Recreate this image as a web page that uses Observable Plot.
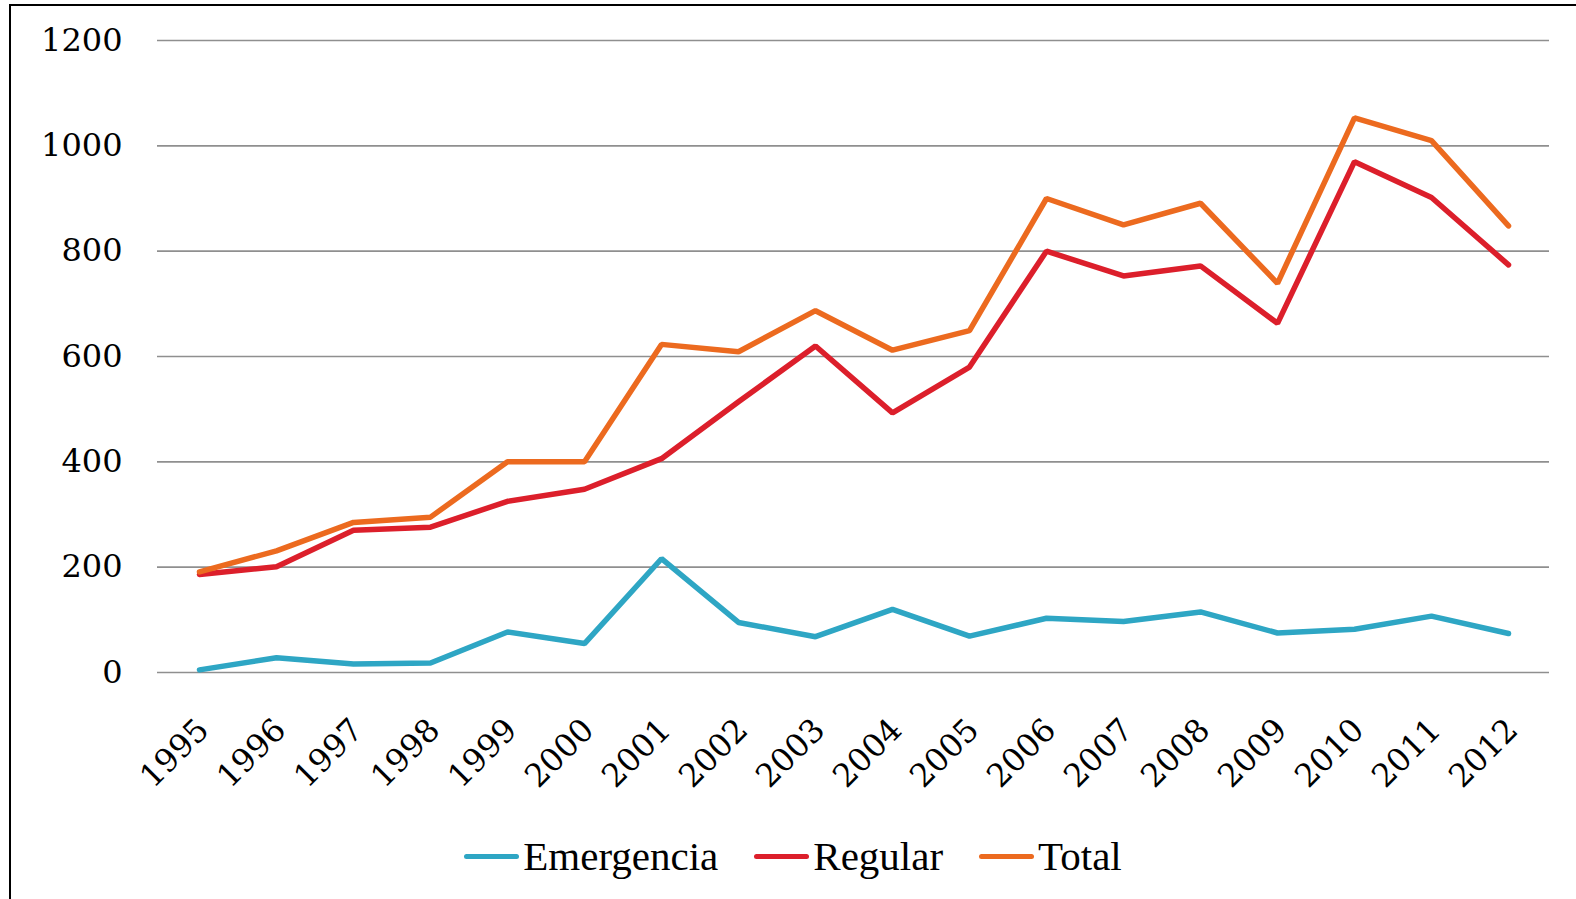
<!DOCTYPE html>
<html>
<head>
<meta charset="utf-8">
<script src="https://cdn.jsdelivr.net/npm/d3@7"></script>
<script src="https://cdn.jsdelivr.net/npm/@observablehq/plot@0.6"></script>
<style>
  html, body { margin: 0; padding: 0; background: #fff; overflow: hidden; width: 1576px; height: 899px; }
  #frame { position: absolute; left: 9px; top: 4px; width: 1700px; height: 1000px; border-left: 2px solid #000; border-top: 2px solid #000; box-sizing: border-box; }
  #chart { position: absolute; left: 0; top: 0; }
  #legend { position: absolute; left: 0; top: 816px; width: 1576px; height: 80px; display: flex; justify-content: center; align-items: center; font-family: "Liberation Serif", serif; font-size: 41px; color: #000; box-sizing: border-box; padding-left: 10px; }
  .item { display: flex; align-items: center; margin: 0 18px; }
  .swatch { width: 55px; height: 5px; border-radius: 3px; margin-right: 4px; }
</style>
</head>
<body>
<div id="frame"></div>
<div id="chart"></div>
<div id="legend"></div>
<script>
const years = ["1995","1996","1997","1998","1999","2000","2001","2002","2003","2004","2005","2006","2007","2008","2009","2010","2011","2012"];
const emergencia = [5, 28, 16, 18, 77, 55, 216, 95, 68, 120, 69, 103, 97, 115, 75, 82, 107, 74];
const regular = [186, 201, 270, 276, 325, 348, 406, 514, 620, 493, 580, 800, 753, 772, 663, 970, 902, 774];
const total = [191, 231, 285, 295, 400, 400, 623, 609, 687, 612, 649, 900, 850, 891, 739, 1053, 1010, 848];
const seriesNames = ["Emergencia", "Regular", "Total"];
const seriesColors = ["#2ea6c4", "#dc1f2b", "#ec6a1f"];
const yTicks = [0, 200, 400, 600, 800, 1000, 1200];

const seriesValues = [emergencia, regular, total];
const data = [];
seriesNames.forEach((name, s) => {
  years.forEach((yr, i) => data.push({series: name, year: yr, value: seriesValues[s][i]}));
});

const chart = Plot.plot({
  width: 1576,
  height: 800,
  marginLeft: 157,
  marginRight: 27,
  marginTop: 40,
  marginBottom: 128,
  style: {fontFamily: "'DejaVu Serif', serif", background: "transparent", overflow: "visible"},
  x: {type: "point", domain: years, padding: 0.5, label: null},
  y: {domain: [0, 1200], label: null},
  color: {domain: seriesNames, range: seriesColors},
  marks: [
    Plot.gridY(yTicks, {stroke: "#8f8f8f", strokeOpacity: 1, strokeWidth: 1.6}),
    Plot.axisY({ticks: yTicks, tickSize: 0, tickPadding: 35, fontSize: 32, tickFormat: d => String(d), label: null}),
    Plot.axisX({tickSize: 0, tickRotate: -45, tickPadding: 52, fontSize: 32, dx: 4, label: null}),
    Plot.line(data, {x: "year", y: "value", z: "series", stroke: "series", strokeWidth: 5.5, strokeLinecap: "round", strokeLinejoin: "miter"})
  ]
});
document.getElementById("chart").appendChild(chart);

const legend = document.getElementById("legend");
seriesNames.forEach((name, i) => {
  const item = document.createElement("div");
  item.className = "item";
  const sw = document.createElement("div");
  sw.className = "swatch";
  sw.style.background = seriesColors[i];
  const label = document.createElement("span");
  label.textContent = name;
  item.appendChild(sw);
  item.appendChild(label);
  legend.appendChild(item);
});
</script>
</body>
</html>
